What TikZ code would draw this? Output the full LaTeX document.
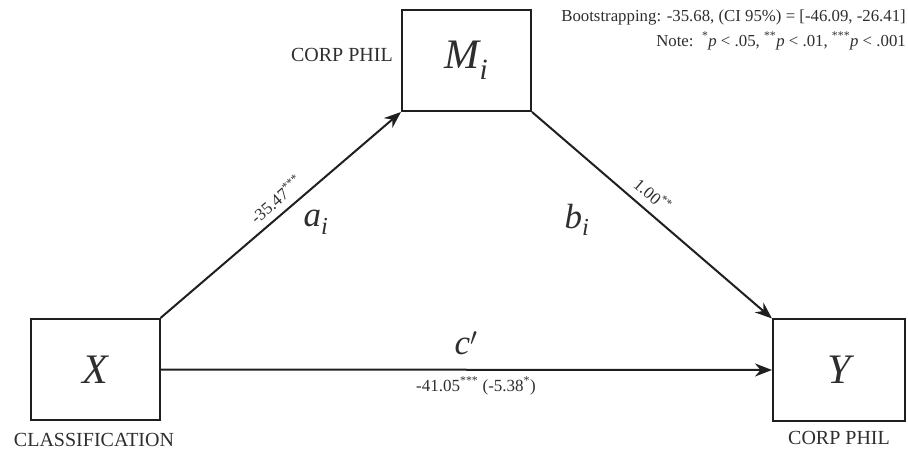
\documentclass[tikz,border=0pt]{standalone}
\usepackage{fontspec}
\setmainfont{Liberation Serif}
\usetikzlibrary{arrows.meta,positioning,calc}
\definecolor{lineGray}{HTML}{1F1F1F}
\definecolor{textGray}{HTML}{2E2E2E}

\begin{document}
\begin{tikzpicture}[
    x=1pt, y=-1pt,
    varBox/.style={rectangle, draw=lineGray, line width=2pt, minimum width=129pt, minimum height=101pt, inner sep=0pt, text=textGray, font=\fontsize{42}{42}\selectfont\itshape},
    varLabel/.style={font=\fontsize{20}{22}\selectfont, text=textGray, inner sep=0pt},
    coefLabel/.style={font=\fontsize{17}{19}\selectfont, text=textGray, inner sep=2pt},
    pathName/.style={font=\fontsize{35}{35}\selectfont\itshape, text=textGray, inner sep=0pt},
    noteText/.style={font=\fontsize{16.8}{18}\selectfont, text=textGray, inner sep=0pt, anchor=east},
    arrow/.style={-{Stealth[length=17pt, width=13pt]}, line width=2pt, lineGray}
]
\useasboundingbox (0,0) rectangle (908,454);

\node[varBox] (X) at (95,369.5) {X};
\node[varBox] (M) at (466.5,60.5) {M\textsubscript{i}};
\node[varBox, minimum width=132pt] (Y) at (839,370) {Y};

\node[varLabel, anchor=east] (mName) at (393,55) {CORP PHIL};
\node[varLabel] (xName) at (94,440) {CLASSIFICATION};
\node[varLabel] (yName) at (839,438) {CORP PHIL};

\node[noteText] (boot) at (906,17) {Bootstrapping: -35.68, (CI 95\%) = [-46.09, -26.41]};
\node[noteText] (note) at (906,41) {Note:\ \ \textsuperscript{*}\textit{p} < .05, \textsuperscript{**}\textit{p} < .01, \textsuperscript{***}\textit{p} < .001};

\draw[arrow] (X.north east) -- node[coefLabel, pos=0.52, sloped, above=5pt] (aCoef) {-35.47\textsuperscript{***}} (M.south west);
\draw[arrow] (M.south east) -- node[coefLabel, pos=0.46, sloped, above=6pt] (bCoef) {1.00\textsuperscript{**}} (Y.north west);
\draw[arrow] (X.east) -- (Y.west);

\node[pathName] (aName) at (316,222) {a\textsubscript{i}};
\node[pathName] (bName) at (577,220) {b\textsubscript{i}};
\node[pathName] (cName) at (466,343) {c$'$};
\node[coefLabel] (cCoef) at (476,386) {-41.05\textsuperscript{***} (-5.38\textsuperscript{*})};

\end{tikzpicture}
\end{document}
